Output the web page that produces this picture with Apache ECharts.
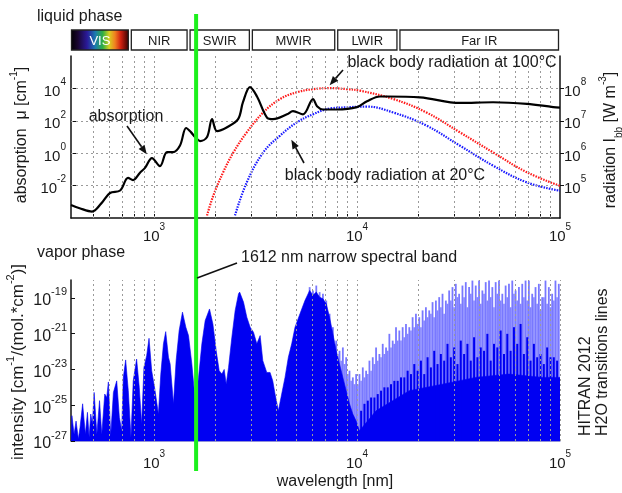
<!DOCTYPE html>
<html>
<head>
<meta charset="utf-8">
<script src="https://cdn.jsdelivr.net/npm/echarts@6.0.0/dist/echarts.min.js"></script>
<style>
html,body{margin:0;padding:0;background:#ffffff;}
#chart{width:622px;height:493px;}
</style>
</head>
<body>
<div id="chart"></div>
<script>
// ================= DATA =================
const bandLabels = ['VIS', 'NIR', 'SWIR', 'MWIR', 'LWIR', 'Far IR'];
const bandStart  = [390, 760, 1480, 3000, 7900, 16000];
const bandEnd    = [760, 1480, 3000, 7900, 16000, 100000];

// liquid water absorption coefficient [cm^-1]
const absorptionWl = [390, 430, 495, 550, 607, 681, 745, 788, 853, 903, 977, 1070, 1159, 1241, 1343, 1440, 1520, 1592, 1686, 1825, 1931, 2044, 2290, 2595, 2743, 2970, 3216, 3603, 3856, 4519, 4838, 5420, 6070, 6353, 6803, 7962, 10000, 11200, 12980, 14060, 20430, 32150, 46800, 68800, 92500, 100000];
const absorptionMu = [6.3e-4, 4e-4, 2.5e-4, 8e-4, 3.5e-3, 5e-3, 0.03, 0.022, 0.063, 0.125, 0.5, 0.16, 1.17, 1.17, 3, 36, 20, 10, 5.6, 10, 126, 23, 40, 126, 1400, 12000, 3160, 158, 126, 250, 400, 250, 2200, 800, 500, 500, 700, 1600, 3160, 3160, 2800, 1260, 1400, 1120, 700, 650];

// black body spectral radiation [W m^-3]
const bb100Wl = [1825, 1959, 2193, 2459, 2863, 3450, 4180, 5050, 6090, 7360, 8890, 10350, 15100, 22000, 32150, 46900, 68500, 100000];
const bb100   = [1.2e4, 4.9e4, 2.6e5, 1.05e6, 4.4e6, 1.8e7, 4.7e7, 7.6e7, 9.5e7, 1.02e8, 9.5e7, 8.5e7, 4.7e7, 1.8e7, 4.4e6, 1.05e6, 2.6e5, 9.8e4];
const bb20Wl  = [2506, 2863, 3450, 4180, 5050, 6090, 7360, 8890, 11170, 15100, 22000, 32150, 46900, 68500, 100000];
const bb20    = [1.2e4, 1.26e5, 1.05e6, 3.5e6, 8.9e6, 1.6e7, 2.4e7, 2.6e7, 2.75e7, 1.8e7, 7.1e6, 1.7e6, 4.1e5, 1.26e5, 6.9e4];

// HITRAN 2012 H2O line intensities [cm^-1/(mol*cm^-2)] - dense envelope
const hitranDenseWl = [390,394,404,413,424,432,445,459,470,479,488,497,507,523,539,553,572,585,596,612,631,655,675,693,706,725,747,770,790,821,846,869,892,920,945,974,1012,1051,1080,1113,1142,1178,1201,1247,1285,1330,1381,1435,1479,1536,1595,1657,1721,1787,1877,1950,2025,2095,2160,2217,2268,2329,2418,2511,2608,2642,2760,2866,2976,3091,3210,3333,3435,3593,3731,3845,3947,4099,4256,4420,4590,4767,4951,5237,5540,5844,6068,6301,6543,6794,7055,7326,7607,7899,8202,8517,8844,9184,9537,9903,10283,12415,14989,18097,26379,38451,56047,81696,100000];
const hitranDense = [1.0e-27,2.6e-26,2.4e-27,1.3e-26,1.3e-27,5.7e-27,1.2e-25,2.4e-27,4.0e-26,1.6e-27,3.2e-26,8.8e-27,5.2e-25,2.4e-27,1.8e-25,2.4e-27,4.2e-25,2.7e-25,2.0e-24,2.0e-27,5.2e-25,2.3e-24,2.1e-26,3.7e-27,3.6e-24,3.4e-23,6.5e-25,1.6e-27,2.3e-24,3.8e-23,1.0e-24,8.8e-27,1.3e-23,5.9e-23,5.5e-22,8.5e-24,6.5e-25,3.2e-26,5.5e-24,2.7e-22,1.3e-21,4.8e-23,2.0e-23,1.2e-25,3.1e-23,1.5e-21,1.6e-20,2.3e-21,7.8e-22,2.0e-23,1.8e-25,3.6e-24,2.7e-22,5.4e-21,2.4e-20,3.5e-21,1.1e-22,8.5e-24,5.5e-24,1.0e-23,1.5e-24,1.3e-23,6.3e-22,2.0e-20,1.7e-19,2.1e-19,5.8e-20,8.3e-21,2.3e-21,1.2e-21,2.7e-22,7.8e-22,3.1e-23,6.8e-24,6.8e-24,2.3e-24,4.2e-25,4.9e-26,4.2e-25,3.6e-24,4.8e-23,2.7e-22,2.3e-21,1.3e-20,7.1e-20,2.6e-19,1.4e-19,2.1e-19,1.1e-19,8.9e-20,4.7e-20,8.3e-21,9.8e-22,1.1e-22,2.0e-23,3.6e-24,6.5e-25,1.2e-25,3.2e-26,1.3e-26,3.7e-27,4.9e-26,1.8e-25,6.5e-25,1.5e-24,3.6e-24,5.5e-24,3.6e-24,3.6e-24];

// individual (weaker, lighter) transition lines
const hitranLineWl = [5844,6068,6301,6543,6794,7055,7326,7607,7899,8202,8517,8844,9184,9537,9903,10283,10678,11088,11514,11956,12415,12892,13387,13901,14435,14989,15565,16162,16783,17428,18097,18792,19513,20263,21041,21849,22688,23559,24464,25403,26379,27392,28444,29536,30670,31848,33071,34341,35660,37029,38451,39927,41461,43053,44706,46423,48205,50056,51978,53974,56047,58199,60434,62755,65165,67667,70265,72963,75765,78675,81696,84833,88091,91474,94986,98634];
const hitranLine = [4.0e-19,2.6e-19,4.9e-19,2.1e-19,1.7e-19,7.1e-20,1.3e-20,2.3e-21,4.1e-22,1.1e-22,1.7e-22,4.8e-23,8.5e-24,3.6e-24,5.5e-24,5.5e-24,1.3e-23,8.5e-24,3.1e-23,4.8e-23,1.7e-22,7.3e-23,2.7e-22,1.7e-22,9.8e-22,4.1e-22,2.3e-21,1.5e-21,2.3e-21,3.5e-21,2.3e-21,8.3e-21,1.3e-20,8.3e-21,2.0e-20,3.0e-20,2.0e-20,5.8e-20,7.1e-20,1.1e-19,1.7e-19,7.1e-20,2.6e-19,4.0e-19,6.1e-19,1.7e-19,4.9e-19,7.6e-19,4.0e-19,9.3e-19,4.9e-19,9.3e-19,2.6e-19,7.6e-19,9.3e-19,4.0e-19,7.6e-19,9.3e-19,1.7e-19,4.9e-19,6.1e-19,9.3e-19,2.6e-19,4.0e-19,6.1e-19,9.3e-19,9.3e-19,1.7e-19,4.0e-19,6.1e-19,1.1e-19,9.3e-19,4.0e-19,1.7e-19,9.3e-19,6.1e-19];
const hitranLine2Wl = [5955,6183,6421,6667,6923,7189,7465,7752,8049,8358,8679,9012,9359,9718,10091,10479,10881,11299,11733,12183,12651,13137,13641,14165,14709,15274,15861,16469,17102,17759,18441,19149,19884,20648,21441,22264,23119,24007,24929,25886,26880,27913,28985,30098,31254,32454,33700,34994,36338,37733,39182,40687,42249,43872,45557,47306,49122,51008,52967,55001,57113,59306,61584,63949,66404,68954,71602,74351,77206,80171,83250,86447,89767,93214,96793];
const hitranLine2 = [1.1e-19,1.7e-19,1.4e-19,7.1e-20,4.7e-20,8.3e-21,1.5e-21,2.7e-22,7.3e-23,3.1e-23,2.0e-23,5.5e-24,2.3e-24,1.5e-24,1.5e-24,2.3e-24,3.6e-24,5.5e-24,8.5e-24,2.0e-23,3.1e-23,4.8e-23,7.3e-23,1.1e-22,1.7e-22,2.7e-22,4.1e-22,4.1e-22,6.3e-22,9.8e-22,1.5e-21,2.3e-21,3.5e-21,2.3e-21,5.4e-21,8.3e-21,1.3e-20,8.3e-21,2.0e-20,3.0e-20,1.3e-20,4.7e-20,7.1e-20,3.0e-20,1.1e-19,4.7e-20,1.1e-19,3.0e-20,1.7e-19,7.1e-20,1.1e-19,4.7e-20,1.7e-19,7.1e-20,1.1e-19,3.0e-20,1.7e-19,7.1e-20,4.7e-20,1.1e-19,3.0e-20,1.7e-19,7.1e-20,4.7e-20,1.1e-19,7.1e-20,3.0e-20,1.1e-19,4.7e-20,2.0e-20,1.1e-19,4.7e-20,3.0e-20,7.1e-20,1.1e-19];

// stronger (dark) transition lines in far IR
const hitranStrongWl = [10479,10881,11299,11733,12183,12651,13137,13641,14165,14709,15274,15861,16469,17102,17759,18441,19149,19884,20648,21441,22264,23119,24007,24929,25886,26880,27913,28985,30098,31254,32454,33700,34994,36338,37733,39182,40687,42249,43872,45557,47306,49122,51008,52967,55001,57113,59306,61584,63949,66404,68954,71602,74351,77206,80171,83250,86447,89767,93214,96793];
const hitranStrong = [4.9e-26,1.2e-25,1.8e-25,2.7e-25,2.7e-25,4.2e-25,6.5e-25,1.0e-24,1.0e-24,1.5e-24,2.3e-24,2.3e-24,3.6e-24,3.6e-24,8.5e-24,5.5e-24,2.0e-23,8.5e-24,3.1e-23,5.5e-24,4.8e-23,1.3e-23,1.1e-22,2.0e-23,7.3e-23,3.1e-23,2.7e-22,4.8e-23,1.7e-22,2.0e-23,4.1e-22,7.3e-23,2.7e-22,3.1e-23,6.3e-22,4.8e-23,1.7e-22,1.1e-22,9.8e-22,3.1e-23,2.7e-22,1.7e-22,1.5e-21,7.3e-23,9.8e-22,1.1e-22,2.3e-21,2.7e-22,3.5e-21,7.3e-23,6.3e-22,3.1e-23,2.7e-22,4.8e-23,7.3e-23,2.0e-23,1.7e-22,4.8e-23,4.8e-23,3.1e-23];

// axis tick values and grid
const xTickLabels = [1000, 10000, 100000];
const xGridWl = [500,600,700,800,900,1000,2000,3000,4000,5000,6000,7000,8000,9000,10000,20000,30000,40000,50000,60000,70000,80000,90000];
const absTicks = [1e-2, 1, 1e2, 1e4];
const radTicks = [1e5, 1e6, 1e7, 1e8];
const intTicks = [1e-27, 1e-25, 1e-23, 1e-21, 1e-19];
const intGrid = [1e-25, 1e-23, 1e-21, 1e-19];
const spectralBandWl = 1612;

// ================= CHART =================
const FONT = '"Liberation Sans", Arial, Helvetica, sans-serif';
const TXT = '#1a1a1a';
const BLUE = '#0000f2';
const chart = echarts.init(document.getElementById('chart'), null, {renderer: 'canvas'});

function expLabel(v) {
  const e = Math.round(Math.log10(v));
  return '{b|10}{s|' + e + '}';
}
function richFor(size) {
  return {
    b: {fontSize: size, fontFamily: FONT, color: TXT, lineHeight: 22, verticalAlign: 'bottom'},
    s: {fontSize: Math.round(size * 0.68), fontFamily: FONT, color: TXT, lineHeight: 22, verticalAlign: 'top'}
  };
}
const zip = (a, b) => a.map((v, i) => [v, b[i]]);
const gridLine = {type: [2, 3], color: '#9a9a9a', width: 1};

const visGradient = new echarts.graphic.LinearGradient(0, 0, 1, 0, [
  {offset: 0, color: '#000000'},
  {offset: 0.12, color: '#1a0630'},
  {offset: 0.28, color: '#2a1a9a'},
  {offset: 0.42, color: '#1a7ab0'},
  {offset: 0.55, color: '#30b040'},
  {offset: 0.66, color: '#d8d020'},
  {offset: 0.76, color: '#f08020'},
  {offset: 0.86, color: '#d02010'},
  {offset: 1, color: '#300000'}
]);

function stemSeries(name, wl, vals, color, width, z) {
  return {
    name: name, type: 'custom', xAxisIndex: 2, yAxisIndex: 3, z: z, clip: true,
    data: zip(wl, vals), encode: {x: 0, y: 1},
    renderItem: function (params, api) {
      const cs = params.coordSys;
      const p = api.coord([api.value(0), api.value(1)]);
      return {type: 'line', shape: {x1: p[0], y1: p[1], x2: p[0], y2: cs.y + cs.height},
        style: {stroke: color, lineWidth: width}};
    }
  };
}

const option = {
  animation: false,
  backgroundColor: '#ffffff',
  grid: [
    {left: 71, right: 62, top: 30, height: 20},
    {left: 71, right: 62, top: 56, height: 162},
    {left: 71, right: 62, top: 280, height: 161}
  ],
  xAxis: [
    {gridIndex: 0, type: 'log', logBase: 10, min: 390, max: 100000, show: false},
    {gridIndex: 1, type: 'log', logBase: 10, min: 390, max: 100000,
      axisLine: {show: true, lineStyle: {color: '#111', width: 1.5}},
      axisTick: {show: true, inside: true, length: 4, customValues: xGridWl, lineStyle: {color: '#111'}},
      splitLine: {show: false}, minorTick: {show: false},
      axisLabel: {customValues: xTickLabels, formatter: expLabel, rich: richFor(15), margin: 4}},
    {gridIndex: 2, type: 'log', logBase: 10, min: 390, max: 100000,
      axisLine: {show: true, lineStyle: {color: '#8f8fd8', width: 1}},
      axisTick: {show: false}, splitLine: {show: false},
      axisLabel: {customValues: xTickLabels, formatter: expLabel, rich: richFor(15), margin: 8}}
  ],
  yAxis: [
    {gridIndex: 0, type: 'value', min: 0, max: 1, show: false},
    {gridIndex: 1, type: 'log', logBase: 10, min: 1e-4, max: 1e6, position: 'left',
      axisLine: {show: true, lineStyle: {color: '#111', width: 1.5}},
      axisTick: {show: true, inside: true, length: 5, customValues: absTicks, lineStyle: {color: '#111'}},
      splitLine: {show: false},
      axisLabel: {customValues: absTicks, formatter: expLabel, rich: richFor(15), margin: 5}},
    {gridIndex: 1, type: 'log', logBase: 10, min: 1e4, max: 1e9, position: 'right',
      axisLine: {show: true, lineStyle: {color: '#111', width: 1.5}},
      axisTick: {show: true, inside: false, length: 4, customValues: radTicks, lineStyle: {color: '#111'}},
      splitLine: {show: false},
      axisLabel: {customValues: radTicks, formatter: expLabel, rich: richFor(15), margin: 4}},
    {gridIndex: 2, type: 'log', logBase: 10, min: 1e-27, max: 1e-18, position: 'left',
      axisLine: {show: true, lineStyle: {color: '#111', width: 1.5}},
      axisTick: {show: true, inside: true, length: 4, customValues: intTicks, lineStyle: {color: '#111'}},
      splitLine: {show: false},
      axisLabel: {customValues: intTicks, formatter: expLabel, rich: richFor(16), margin: 4}}
  ],
  series: [
    {
      name: 'bands', type: 'custom', xAxisIndex: 0, yAxisIndex: 0,
      data: bandStart.map((s, i) => [s, bandEnd[i]]),
      encode: {x: [0, 1]},
      renderItem: function (params, api) {
        const cs = params.coordSys;
        const a = api.coord([api.value(0), 0.5]);
        const b = api.coord([api.value(1), 0.5]);
        const idx = params.dataIndex;
        const x0 = a[0] + (idx === 0 ? 0.5 : 1.5);
        const x1 = b[0] - 1.5;
        return {
          type: 'group',
          children: [
            {type: 'rect', shape: {x: x0, y: cs.y, width: x1 - x0, height: cs.height},
              style: {fill: idx === 0 ? visGradient : '#ffffff', stroke: '#222', lineWidth: 1.3}},
            {type: 'text', style: {text: bandLabels[idx], x: (x0 + x1) / 2, y: cs.y + cs.height / 2 + 1,
              align: 'center', verticalAlign: 'middle', fontSize: 13, fontFamily: FONT,
              fill: idx === 0 ? '#ffffff' : TXT}}
          ]
        };
      }
    },
    {
      name: 'upperGrid', type: 'line', xAxisIndex: 1, yAxisIndex: 1, data: [], z: 1,
      markLine: {silent: true, symbol: 'none', label: {show: false}, lineStyle: gridLine, animation: false,
        data: xGridWl.map(v => ({xAxis: v})).concat(absTicks.map(v => ({yAxis: v})))}
    },
    {
      name: 'absorption', type: 'line', xAxisIndex: 1, yAxisIndex: 1, z: 5,
      data: zip(absorptionWl, absorptionMu), showSymbol: false, smooth: 0.35,
      lineStyle: {color: '#000000', width: 2.2}
    },
    {
      name: 'bb100', type: 'line', xAxisIndex: 1, yAxisIndex: 2, z: 4,
      data: zip(bb100Wl, bb100), showSymbol: false, smooth: 0.4,
      lineStyle: {color: '#ff1a1a', width: 2.2, type: [1.5, 1.2]}
    },
    {
      name: 'bb20', type: 'line', xAxisIndex: 1, yAxisIndex: 2, z: 4,
      data: zip(bb20Wl, bb20), showSymbol: false, smooth: 0.4,
      lineStyle: {color: '#1a1aff', width: 2.2, type: [1.5, 1.2]}
    },
    {
      name: 'lowerGrid', type: 'line', xAxisIndex: 2, yAxisIndex: 3, data: [], z: 1,
      markLine: {silent: true, symbol: 'none', label: {show: false}, lineStyle: gridLine, animation: false,
        data: xGridWl.concat([100000]).map(v => ({xAxis: v})).concat(intGrid.map(v => ({yAxis: v})))}
    },
    stemSeries('hitranLines', hitranLineWl, hitranLine, 'rgba(30,30,255,0.6)', 1.8, 2),
    stemSeries('hitranLines2', hitranLine2Wl, hitranLine2, 'rgba(30,30,255,0.55)', 1.4, 2),
    {
      name: 'hitranDense', type: 'custom', xAxisIndex: 2, yAxisIndex: 3, z: 3, clip: true,
      data: zip(hitranDenseWl, hitranDense), encode: {x: 0, y: 1},
      renderItem: function (params, api) {
        if (params.dataIndex !== 0) return;
        const cs = params.coordSys;
        const base = cs.y + cs.height;
        const pts = hitranDenseWl.map((w, i) => api.coord([w, hitranDense[i]]));
        pts.push([pts[pts.length - 1][0], base]);
        pts.push([pts[0][0], base]);
        return {type: 'polygon', shape: {points: pts}, style: {fill: BLUE, stroke: BLUE, lineWidth: 0.6}};
      }
    },
    stemSeries('hitranStrong', hitranStrongWl, hitranStrong, BLUE, 2, 3)
  ]
};
chart.setOption(option);

// ---------- annotations (positions derived from axes) ----------
const gx = chart.convertToPixel({xAxisIndex: 1}, spectralBandWl);
const absTip = chart.convertToPixel({xAxisIndex: 1, yAxisIndex: 1}, [921, 0.87]);
const hotTip = chart.convertToPixel({xAxisIndex: 1, yAxisIndex: 2}, [7330, 1.26e8]);
const coldTip = chart.convertToPixel({xAxisIndex: 1, yAxisIndex: 2}, [4750, 2.6e6]);

function arrow(x1, y1, x2, y2) {
  const ang = Math.atan2(y2 - y1, x2 - x1);
  const L = 9, W = 3.6;
  const bx = x2 - L * Math.cos(ang), by = y2 - L * Math.sin(ang);
  const px = -Math.sin(ang) * W, py = Math.cos(ang) * W;
  return [
    {type: 'line', z: 20, shape: {x1: x1, y1: y1, x2: bx, y2: by}, style: {stroke: '#111', lineWidth: 1.6}},
    {type: 'polygon', z: 20, shape: {points: [[x2, y2], [bx + px, by + py], [bx - px, by - py]]}, style: {fill: '#111'}}
  ];
}
function txt(text, x, y, opts) {
  return Object.assign({type: 'text', z: 20, x: x, y: y, style: Object.assign({
    text: text, fontSize: 16, fontFamily: FONT, fill: TXT, align: 'center', verticalAlign: 'middle'
  }, opts || {})});
}
const richTitle = {
  b: {fontSize: 16, fontFamily: FONT, fill: TXT, lineHeight: 26, verticalAlign: 'middle'},
  s: {fontSize: 10, fontFamily: FONT, fill: TXT, lineHeight: 26, verticalAlign: 'top'},
  u: {fontSize: 10, fontFamily: FONT, fill: TXT, lineHeight: 26, verticalAlign: 'bottom'}
};
const richTitle2 = {
  b: {fontSize: 17, fontFamily: FONT, fill: TXT, lineHeight: 26, verticalAlign: 'middle'},
  s: {fontSize: 11, fontFamily: FONT, fill: TXT, lineHeight: 26, verticalAlign: 'top'}
};

const graphics = [
  txt('liquid phase', 37, 17, {align: 'left'}),
  txt('vapor phase', 37, 253, {align: 'left'}),
  {type: 'text', z: 20, x: 22, y: 135, rotation: Math.PI / 2,
    style: {text: '{b|absorption  μ [cm}{s|-1}{b|]}', rich: richTitle, align: 'center', verticalAlign: 'middle'}},
  {type: 'text', z: 20, x: 611, y: 140, rotation: Math.PI / 2,
    style: {text: '{b|radiation I}{u|bb}{b| [W m}{s|-3}{b|]}', rich: richTitle, align: 'center', verticalAlign: 'middle'}},
  {type: 'text', z: 20, x: 18, y: 362, rotation: Math.PI / 2,
    style: {text: '{b|intensity [cm}{s|-1}{b|/(mol.*cm}{s|-2}{b|)]}', rich: richTitle2, align: 'center', verticalAlign: 'middle'}},
  {type: 'text', z: 20, x: 586, y: 436, rotation: Math.PI / 2,
    style: {text: 'HITRAN 2012', fontSize: 16, fontFamily: FONT, fill: TXT, align: 'left', verticalAlign: 'middle'}},
  {type: 'text', z: 20, x: 603, y: 436, rotation: Math.PI / 2,
    style: {text: 'H2O transitions lines', fontSize: 16, fontFamily: FONT, fill: TXT, align: 'left', verticalAlign: 'middle'}},
  txt('wavelength [nm]', 335, 482, {fontSize: 16}),
  txt('absorption', 126, 117),
  txt('black body radiation at 100°C', 452, 63),
  txt('black body radiation at 20°C', 385, 176),
  txt('1612 nm narrow spectral band', 241, 258, {align: 'left'}),
  {type: 'line', z: 20, shape: {x1: gx + 1, y1: 278, x2: 237, y2: 263}, style: {stroke: '#111', lineWidth: 1.6}},
  {type: 'line', z: 15, shape: {x1: gx, y1: 14, x2: gx, y2: 471}, style: {stroke: '#1cf01c', lineWidth: 4}}
].concat(arrow(127, 126, absTip[0], absTip[1]))
 .concat(arrow(343, 70, hotTip[0], hotTip[1]))
 .concat(arrow(304, 163, coldTip[0], coldTip[1]));

chart.setOption({graphic: graphics});
</script>
</body>
</html>
